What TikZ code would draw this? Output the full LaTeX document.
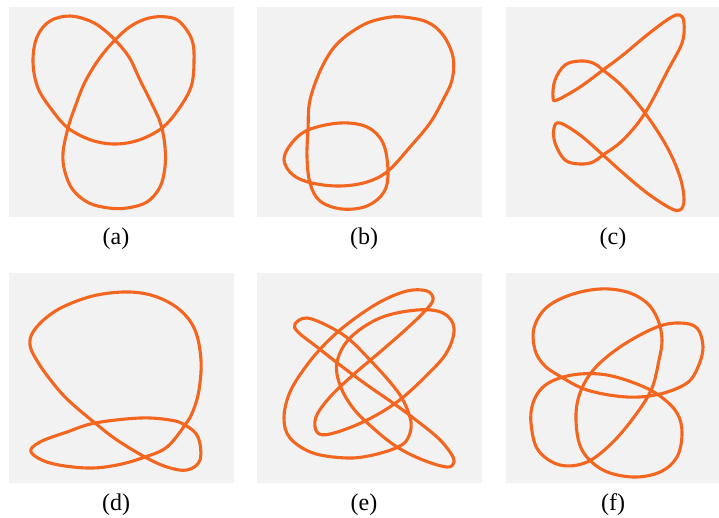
\documentclass[tikz,border=0pt]{standalone}
\usepackage{fontspec}
\setmainfont{Liberation Serif}
\usepackage{tikz}
\usetikzlibrary{calc, positioning}

\definecolor{knotorange}{RGB}{242,102,32}
\definecolor{panelgray}{RGB}{242,242,242}

\begin{document}
\begin{tikzpicture}[
    x=1pt, y=-1pt,
    panel/.style={fill=panelgray},
    knot/.style={draw=knotorange, line width=3.1pt, line join=round},
    lbl/.style={font=\fontsize{24}{28}\selectfont, inner sep=0pt}
]
    \useasboundingbox (0,0) rectangle (719,517);

    % grey backgrounds
    \fill[panel] (9,7)    rectangle (234,217);
    \fill[panel] (257,7)  rectangle (482,217);
    \fill[panel] (506,7)  rectangle (719,217);
    \fill[panel] (9,273)  rectangle (234,483);
    \fill[panel] (257,273) rectangle (482,483);
    \fill[panel] (506,273) rectangle (719,483);

    % (a)
    \begin{scope}[shift={(9,7)}]
        \draw[knot] plot[smooth cycle, tension=0.6] coordinates {
            (61,9) (81,14) (94,22) (106,33) (120,50) (131,73) (142,95)
            (150,112) (153,121) (156,140) (156,160) (151,180) (138,195)
            (118,201) (100,201) (80,196) (64,183) (56,165) (54,146)
            (59,121) (66,100) (76,75) (90,52) (106,33) (122,19) (140,11)
            (158,10) (171,15) (183,33) (185,55) (182,80) (169,103)
            (153,121) (130,133) (106,137) (82,133) (59,121) (43,103)
            (29,81) (24,55) (28,30) (41,14)};
    \end{scope}

    % (b)
    \begin{scope}[shift={(257,7)}]
        \draw[knot] plot[smooth cycle, tension=0.6] coordinates {
            (146,10) (170,15) (186,28) (196,50) (195,73) (186,93)
            (173,116) (153,140) (131,164) (110,175) (83,179) (55,176)
            (36,168) (27,153) (34,137) (51,123) (83,116) (110,120)
            (126,136) (131,164) (127,185) (110,199) (85,202) (63,194)
            (53,176) (50,150) (51,123) (53,93) (65,60) (81,36)
            (106,18) (128,11)};
    \end{scope}

    % (c)
    \begin{scope}[shift={(506,7)}]
        \draw[knot] plot[smooth cycle, tension=0.6] coordinates {
            (51,93) (74,80) (97,63) (117,48) (141,28) (164,11) (174,8)
            (178,16) (176,36) (162,63) (139,106) (117,133) (97,148)
            (87,155) (74,157) (59,153) (49,136) (48,121) (54,116)
            (74,128) (97,148) (117,166) (141,186) (164,201) (174,203)
            (178,193) (174,170) (161,140) (139,106) (117,80) (97,63)
            (87,56) (74,54) (59,58) (49,73) (47,90)};
    \end{scope}

    % (d)
    \begin{scope}[shift={(9,273)}]
        \draw[knot] plot[smooth cycle, tension=0.6] coordinates {
            (121,19) (148,24) (171,37) (186,57) (192,87) (190,117)
            (184,138) (176,152) (158,174) (136,184) (108,192) (78,195)
            (41,190) (22,179) (31,169) (58,159) (86,150) (131,145)
            (161,147) (176,152) (189,164) (191,187) (178,197) (158,194)
            (136,184) (108,167) (86,150) (58,126) (40,105) (27,86)
            (21,72) (24,59) (38,44) (58,32) (88,22)};
    \end{scope}

    % (e)
    \begin{scope}[shift={(257,273)}]
        \draw[knot] plot[smooth cycle, tension=0.6] coordinates {
            (38,51) (50,45) (73,54) (93,67) (113,87) (133,109) (146,127)
            (154,149) (151,165) (141,174) (116,182) (90,185) (56,180)
            (33,165) (27,145) (33,119) (50,92) (70,69) (93,49) (123,29)
            (150,18) (170,18) (176,27) (166,40) (146,59) (123,79)
            (96,102) (73,124) (59,144) (60,159) (73,161) (106,149)
            (140,129) (170,102) (190,79) (197,55) (186,40) (160,37)
            (123,45) (93,65) (80,89) (83,112) (96,135) (116,155)
            (140,174) (166,187) (190,194) (197,189) (193,179) (180,164)
            (155,144) (136,130) (110,112) (83,92) (60,74) (41,59)};
    \end{scope}

    % (f)
    \begin{scope}[shift={(506,273)}]
        \draw[knot] plot[smooth cycle, tension=0.6] coordinates {
            (94,16) (64,22) (40,35) (28,55) (29,77) (38,92) (52,102)
            (81,117) (121,124) (154,121) (181,110) (192,94) (197,74)
            (191,55) (174,50) (151,54) (117,72) (89,95) (74,120)
            (70,147) (76,177) (97,197) (127,204) (154,199) (171,184)
            (176,160) (171,140) (154,123) (131,111) (101,102) (74,101)
            (51,106) (36,115) (27,130) (25,150) (32,177) (54,192)
            (81,189) (107,169) (131,140) (146,115) (153,87) (156,67)
            (152,47) (141,30) (121,19)};
    \end{scope}

    % captions
    \node[lbl] (capa) at (116,239) {(a)};
    \node[lbl] (capb) at (364,239) {(b)};
    \node[lbl] (capc) at (613,239) {(c)};
    \node[lbl] (capd) at (116,505) {(d)};
    \node[lbl] (cape) at (364,505) {(e)};
    \node[lbl] (capf) at (613,505) {(f)};
\end{tikzpicture}
\end{document}
